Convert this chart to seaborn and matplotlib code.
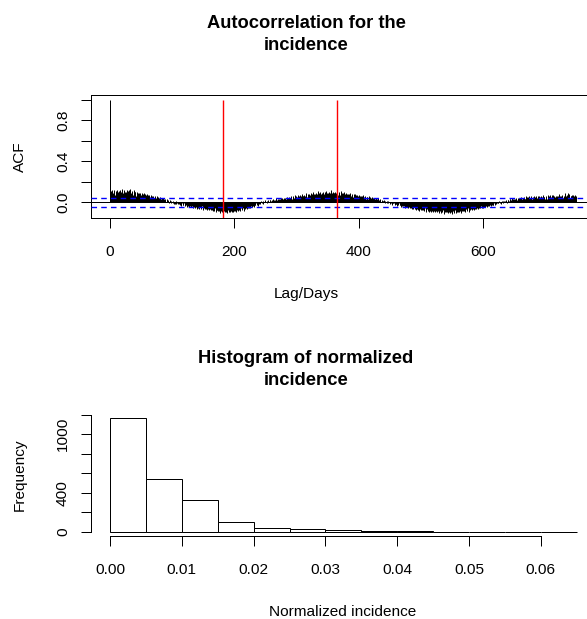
import numpy as np
import pandas as pd
import matplotlib
matplotlib.use("Agg")
import matplotlib.pyplot as plt
import seaborn as sns

# ---------------- data ----------------
# ACF of the incidence series (values in thousandths), lags 0..750
acf_milli = [
    1000,
    112, 78, 105, 124, 88, 101, 119, 73, 108, 96, 122, 85, 104, 110, 72, 117, 99, 87, 106, 126,
    95, 109, 121, 70, 102, 97, 118, 86, 107, 123, 74, 100, 127, 89, 111, 103, 76, 116, 91, 105,
    98, 64, 102, 79, 93, 88, 52, 95, 81, 76, 90, 48, 83, 74, 87, 45, 78, 70, 82, 41,
    74, 58, 69, 43, 52, 71, 57, 28, 66, 54, 45, 62, 30, 41, 58, 46, 18, 55, 43, 35,
    49, 31, 40, 7, 44, 22, 35, 18, 30, 4, 12, 28, 8, 19, -5, 2, 21, -4, 10, 5,
    -8, 16, -12, -3, -15, 12, -18, -9, -21, 5, -14, -24, -11, -19, -37, -8, -22, -30, -6, -25,
    -33, -20, -28, -48, -24, -35, -42, -19, -37, -45, -31, -40, -58, -34, -43, -29, -51, -36, -46, -63,
    -41, -55, -47, -68, -44, -52, -61, -39, -57, -74, -50, -59, -67, -44, -62, -80, -56, -66, -73, -50,
    -68, -75, -53, -71, -89, -66, -74, -82, -59, -77, -95, -72, -80, -88, -66, -83, -101, -78, -86, -95,
    -81, -108, -89, -74, -97, -79, -92, -87, -104, -73, -90, -76, -94, -85, -70, -91, -74, -98, -82, -67,
    -86, -71, -90, -75, -58, -83, -72, -65, -88, -69, -52, -74, -66, -58, -81, -60, -45, -67, -52, -63,
    -49, -57, -35, -53, -41, -58, -37, -44, -23, -40, -29, -46, -24, -31, -10, -27, -15, -32, -10, -18,
    -6, -13, 10, -8, 4, -13, 9, -1, 22, 3, 7, 15, -8, 10, 18, 5, 23, 21, 8, 16,
    24, 11, 29, 27, 14, 22, 40, 17, 25, 33, 10, 28, 36, 23, 41, 26, 39, 19, 34, 42,
    32, 45, 27, 30, 48, 40, 25, 51, 43, 38, 65, 46, 31, 58, 49, 44, 71, 52, 37, 64,
    55, 40, 67, 58, 43, 70, 61, 46, 83, 64, 59, 76, 57, 62, 89, 70, 55, 82, 72, 58,
    85, 74, 60, 88, 77, 62, 101, 79, 75, 84, 93, 71, 77, 106, 83, 69, 90, 98, 75, 81,
    94, 77, 100, 83, 71, 97, 86, 114, 89, 72, 95, 101, 78, 93, 85, 117, 92, 74, 98, 90,
    87, 102, 75, 88, 118, 91, 74, 99, 93, 76, 106, 89, 72, 94, 87, 70, 101, 84, 68, 88,
    81, 65, 86, 79, 62, 93, 76, 59, 80, 73, 56, 77, 70, 53, 84, 67, 50, 71, 64, 47,
    68, 61, 44, 65, 58, 41, 72, 55, 38, 59, 52, 35, 56, 49, 32, 63, 46, 29, 50, 43,
    26, 47, 40, 23, 44, 37, 20, 41, 34, 17, 38, 25, 21, 20, 28, 7, 24, 14, 11, 10,
    18, -3, 15, 3, 12, -10, 9, -4, 6, -17, 3, -10, -1, -23, -5, -6, -8, -29, -11, -21,
    -14, -34, -17, -27, -10, -30, -23, -43, -26, -36, -19, -39, -32, -52, -35, -45, -28, -47, -41, -60,
    -44, -52, -37, -55, -49, -68, -52, -61, -44, -63, -57, -76, -59, -68, -52, -71, -64, -83, -67, -76,
    -59, -78, -72, -55, -81, -74, -58, -94, -76, -70, -86, -69, -72, -98, -81, -65, -90, -83, -67, -92,
    -85, -69, -94, -87, -71, -96, -89, -73, -108, -90, -84, -101, -82, -86, -97, -78, -82, -114, -93, -77,
    -99, -90, -74, -102, -94, -78, -106, -95, -79, -118, -97, -81, -100, -93, -77, -109, -94, -78, -98, -90,
    -74, -95, -87, -71, -102, -84, -68, -89, -81, -65, -96, -78, -62, -83, -75, -59, -90, -72, -56, -77,
    -69, -53, -74, -66, -50, -71, -62, -46, -67, -58, -42, -63, -54, -38, -59, -50, -34, -55, -46, -30,
    -51, -42, -26, -47, -38, -22, -43, -34, -18, -39, -30, -14, -35, -26, -10, -31, -22, -6, -27, -12,
    -18, -8, 4, -4, -10, 10, -6, 5, -12, 9, 2, 13, -4, 17, 10, 4, 14, 21, -2, 18,
    25, 12, 32, 29, 16, 26, 43, 20, 30, 37, 14, 34, 28, 41, 21, 26, 38, 45, 22, 42,
    36, 49, 29, 33, 46, 52, 30, 35, 58, 43, 55, 28, 47, 41, 63, 45, 39, 57, 34, 50,
    42, 66, 47, 53, 31, 59, 46, 61, 34, 62, 48, 54, 33, 58, 50, 35, 73, 49, 55, 37,
    60, 52, 36, 75, 53, 58, 38, 67, 55, 40, 72, 57, 71, 41, 59, 54, 66, 39, 61, 56,
    64, 43, 80, 58, 62, 41, 75, 57, 46, 60, 55, 94, 63, 48, 72, 54, 87, 61, 79, 46,
    65, 59, 70, 45, 68, 62, 47, 74, 60, 66,
]
acf_values = np.array(acf_milli) / 1000.0
lags = np.arange(len(acf_values))
conf_limit = 0.042            # +/- significance bound (blue dashed)
season_lags = [182.5, 365]    # red reference lines (half year, year)

acf_xticks = [0, 200, 400, 600]
acf_yticks = [0.0, 0.2, 0.4, 0.6, 0.8, 1.0]
acf_ytick_labels = ["0.0", "", "0.4", "", "0.8", ""]

# Histogram of normalized incidence
hist_edges = [0.000, 0.005, 0.010, 0.015, 0.020, 0.025, 0.030, 0.035,
              0.040, 0.045, 0.050, 0.055, 0.060, 0.065]
hist_counts = [1169, 537, 325, 103, 41, 25, 13, 7, 3, 2, 1, 1, 1]
hist_xticks = [0.00, 0.01, 0.02, 0.03, 0.04, 0.05, 0.06]
hist_xtick_labels = ["0.00", "0.01", "0.02", "0.03", "0.04", "0.05", "0.06"]
hist_yticks = [0, 200, 400, 600, 800, 1000, 1200]
hist_ytick_labels = ["0", "", "400", "", "", "1000", ""]

# ---------------- style ----------------
sns.set_theme(style="ticks")
plt.rcParams["font.family"] = ["Liberation Sans", "DejaVu Sans"]
plt.rcParams["text.color"] = "black"
plt.rcParams["axes.labelcolor"] = "black"

W, H = 587, 619
DPI = 100
fig = plt.figure(figsize=(W / DPI, H / DPI), dpi=DPI, facecolor="white")

LW = 0.72      # 1 px
TICK_FS = 11.1
LAB_FS = 11.1
TITLE_FS = 13.2

def frac_rect(left, top, right, bottom):
    return [left / W, 1 - bottom / H, (right - left) / W, (bottom - top) / H]

# ---------------- ACF panel ----------------
ax1 = fig.add_axes(frac_rect(91, 95, 595, 218))
ax1.set_facecolor("white")
ax1.vlines(lags, 0, acf_values, color="black", linewidth=LW, zorder=2)
ax1.axhline(0, color="black", linewidth=LW, zorder=2)
for c in (conf_limit, -conf_limit):
    ax1.axhline(c, color="#0000FF", linewidth=1.0, linestyle=(0, (4, 3)), zorder=3)
for s in season_lags:
    ax1.plot([s, s], [-0.16, 1.0], color="#FF0000", linewidth=1.0, zorder=4,
             solid_capstyle="butt")
ax1.set_xlim(-30.5, 780.4)
ax1.set_ylim(-0.1535, 1.049)
ax1.set_xticks(acf_xticks)
ax1.set_xticklabels([str(v) for v in acf_xticks])
ax1.set_yticks(acf_yticks)
ax1.set_yticklabels(acf_ytick_labels)
for sp in ax1.spines.values():
    sp.set_visible(True)
    sp.set_color("black")
    sp.set_linewidth(LW)
ax1.tick_params(axis="both", direction="out", length=7.2, width=LW,
                color="black", labelcolor="black", labelsize=TICK_FS)
ax1.tick_params(axis="x", pad=12)
ax1.tick_params(axis="y", pad=8, labelrotation=90)
for lbl in ax1.get_yticklabels():
    lbl.set_va("center")
ax1.set_xlabel("Lag/Days", fontsize=LAB_FS, color="black")
ax1.set_ylabel("ACF", fontsize=LAB_FS, color="black")
ax1.xaxis.set_label_coords((306 - 91) / 504, (218 - 287) / 123)
ax1.yaxis.set_label_coords(-0.127, 0.5)
ax1.grid(False)

fig.text(306 / W, 1 - 15 / H, "Autocorrelation for the\nincidence",
         ha="center", va="top", fontsize=TITLE_FS, fontweight="bold",
         linespacing=1.35, color="black")

# ---------------- Histogram panel ----------------
ax2 = fig.add_axes(frac_rect(91, 413, 595, 536.3))
ax2.set_facecolor("white")
hist_df = pd.DataFrame({
    "incidence": [(a + b) / 2 for a, b in zip(hist_edges[:-1], hist_edges[1:])],
    "count": hist_counts,
})
sns.histplot(data=hist_df, x="incidence", weights="count", bins=hist_edges,
             ax=ax2, color="white", edgecolor="black", linewidth=LW, alpha=1.0)
ax2.set_xlim(-0.00265, 0.06755)
ax2.set_ylim(-46.8, 1215.8)
ax2.set_xticks(hist_xticks)
ax2.set_xticklabels(hist_xtick_labels)
ax2.set_yticks(hist_yticks)
ax2.set_yticklabels(hist_ytick_labels)
ax2.spines["top"].set_visible(False)
ax2.spines["right"].set_visible(False)
ax2.spines["left"].set_bounds(0, 1200)
ax2.spines["bottom"].set_bounds(0, 0.06)
for side in ("left", "bottom"):
    ax2.spines[side].set_color("black")
    ax2.spines[side].set_linewidth(LW)
ax2.tick_params(axis="both", direction="out", length=7.2, width=LW,
                color="black", labelcolor="black", labelsize=TICK_FS)
ax2.tick_params(axis="x", pad=12)
ax2.tick_params(axis="y", pad=8, labelrotation=90)
for lbl in ax2.get_yticklabels():
    lbl.set_va("center")
ax2.set_xlabel("Normalized incidence", fontsize=LAB_FS, color="black")
ax2.set_ylabel("Frequency", fontsize=LAB_FS, color="black")
ax2.xaxis.set_label_coords(0.5, (536.3 - 605) / 123.3)
ax2.yaxis.set_label_coords(-0.127, 0.5)
ax2.grid(False)

fig.text(306 / W, 1 - 350 / H, "Histogram of normalized\nincidence",
         ha="center", va="top", fontsize=TITLE_FS, fontweight="bold",
         linespacing=1.35, color="black")

fig.savefig("out.png", dpi=DPI, facecolor="white")
